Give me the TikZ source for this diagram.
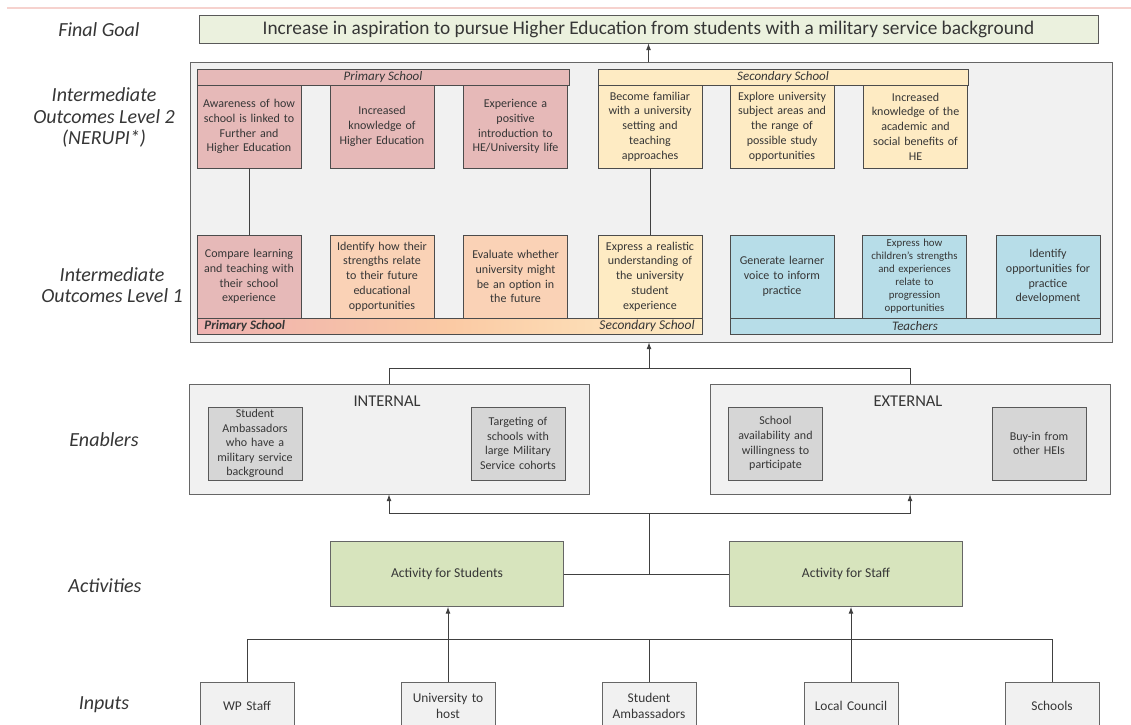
\documentclass[tikz,border=0pt]{standalone}
\usepackage{fontspec}
\setmainfont{Carlito}
\usepackage{tikz}
\usetikzlibrary{arrows,arrows.meta}
\usetikzlibrary{positioning}
\definecolor{goalgreen}{HTML}{EBF1DE}
\definecolor{actgreen}{HTML}{D7E4BD}
\definecolor{pinkbox}{HTML}{E6B9B8}
\definecolor{peachbox}{HTML}{FAD2B6}
\definecolor{yellowbox}{HTML}{FEEBC3}
\definecolor{tealbox}{HTML}{B7DDE8}
\definecolor{panel}{HTML}{F1F1F1}
\definecolor{enabox}{HTML}{D6D6D6}
\definecolor{topline}{HTML}{F6D2CE}
\definecolor{ink}{HTML}{363636}
\tikzset{%
  >={Latex[length=7pt,width=5pt]},
  side label/.style={font=\fontsize{20}{21.5}\selectfont\itshape,align=center,text=ink},
  outcome/.style={draw=black!70,fill=#1,minimum width=104pt,minimum height=83pt,
    text width=100pt,align=center,inner sep=0pt,text=ink,
    font=\fontsize{12}{14.8}\selectfont},
  band/.style={draw=black!70,fill=#1,minimum height=16pt,inner sep=0pt,text=ink,
    font=\fontsize{13}{14}\selectfont\itshape},
  panelbox/.style={draw=black!60,fill=panel,inner sep=0pt},
  enabler/.style={draw=black!65,fill=enabox,minimum width=94pt,minimum height=73pt,
    text width=92pt,align=center,inner sep=0pt,text=ink,
    font=\fontsize{12}{14.6}\selectfont},
  activity/.style={draw=black!60,fill=actgreen,minimum width=233pt,minimum height=65pt,
    inner sep=0pt,text=ink,font=\fontsize{13.6}{15}\selectfont},
  inputbox/.style={draw=black!60,fill=panel,minimum width=94pt,minimum height=48pt,
    text width=92pt,align=center,inner sep=0pt,text=ink,
    font=\fontsize{13.4}{15.5}\selectfont},
  link/.style={draw=black!75,line width=1pt}
}

\begin{document}
\begin{tikzpicture}[x=1pt,y=-1pt]
\useasboundingbox (0,0) rectangle (1131,724);
\clip (0,0) rectangle (1131,724);
\fill[white] (0,0) rectangle (1131,724);
\draw[topline,line width=2pt] (7,8) -- (1131,8);

% row labels
\node[side label] (lgoal) at (99,30) {Final Goal};
\node[side label] (llvl2) at (104,117.5) {Intermediate\\Outcomes Level 2\\(NERUPI*)};
\node[side label] (llvl1) at (112,285) {Intermediate\\Outcomes Level 1};
\node[side label] (lenab) at (104,440) {Enablers};
\node[side label] (lact) at (105,586) {Activities};
\node[side label] (linp) at (104,705) {Inputs};

% final goal
\node[draw=black!65,fill=goalgreen,minimum width=899pt,minimum height=28pt,inner sep=0pt,
  text=ink,font=\fontsize{19.3}{22}\selectfont] (goal) at (648.5,29)
  {Increase in aspiration to pursue Higher Education from students with a military service background};

% outcomes panel
\node[panelbox,minimum width=922pt,minimum height=280pt] (lvl) at (651,202) {};

\node[band=pinkbox,minimum width=372pt] (pshead) at (383,77.5) {Primary School};
\node[band=yellowbox,minimum width=370pt] (sshead) at (783,77.5) {Secondary School};

\node[outcome=pinkbox] (ps1) at (249,126.5) {Awareness of how\\school is linked to\\Further and\\Higher Education};
\node[outcome=pinkbox] (ps2) at (382,126.5) {Increased\\knowledge of\\Higher Education};
\node[outcome=pinkbox] (ps3) at (515.5,126.5) {Experience a\\positive\\introduction to\\HE/University life};
\node[outcome=yellowbox] (ss1) at (650,126.5) {Become familiar\\with a university\\setting and\\teaching\\approaches};
\node[outcome=yellowbox] (ss2) at (782,126.5) {Explore university\\subject areas and\\the range of\\possible study\\opportunities};
\node[outcome=yellowbox] (ss3) at (915.5,126.5) {Increased\\knowledge of the\\academic and\\social benefits of\\HE};

\node[outcome=pinkbox] (pc1) at (249,276.5) {Compare learning\\and teaching with\\their school\\experience};
\node[outcome=peachbox] (pc2) at (382,276.5) {Identify how their\\strengths relate\\to their future\\educational\\opportunities};
\node[outcome=peachbox] (pc3) at (515.5,276.5) {Evaluate whether\\university might\\be an option in\\the future};
\node[outcome=yellowbox] (sc1) at (650,276.5) {Express a realistic\\understanding of\\the university\\student\\experience};
\node[outcome=tealbox] (tc1) at (782,276.5) {Generate learner\\voice to inform\\practice};
\node[outcome=tealbox,font=\fontsize{10.8}{13}\selectfont] (tc2) at (914.5,276.5)
  {Express how\\children’s strengths\\and experiences\\relate to\\progression\\opportunities};
\node[outcome=tealbox] (tc3) at (1048,276.5) {Identify\\opportunities for\\practice\\development};

\node[band=white,minimum width=505pt,left color=pinkbox!85!red!80!white,right color=yellowbox,
  middle color=peachbox!90!orange] (bar) at (449.5,326) {};
\node[anchor=west,text=ink,font=\fontsize{13}{14}\selectfont\itshape\bfseries] (barl)
  at ([xshift=4pt]bar.west) {Primary School};
\node[anchor=east,text=ink,font=\fontsize{13.5}{14}\selectfont\itshape] (barr)
  at ([xshift=-4pt]bar.east) {Secondary School};
\node[band=tealbox,minimum width=370pt] (teach) at (915,326) {Teachers};

\draw[link] (ps1.south) -- (pc1.north);
\draw[link] (ss1.south) -- (sc1.north);
\draw[link,->] (lvl.north -| goal.south) -- (goal.south);

% enablers
\node[panelbox,minimum width=400pt,minimum height=110pt] (int) at (389,439) {};
\node[panelbox,minimum width=400pt,minimum height=110pt] (ext) at (910,439) {};
\node[text=ink,font=\fontsize{16.5}{18}\selectfont] (intt) at (387,401) {INTERNAL};
\node[text=ink,font=\fontsize{16.5}{18}\selectfont] (extt) at (908,401) {EXTERNAL};
\node[enabler] (ia) at (255,443.5) {Student\\Ambassadors\\who have a\\military service\\background};
\node[enabler] (ib) at (518,443.5) {Targeting of\\schools with\\large Military\\Service cohorts};
\node[enabler] (ea) at (775.5,443.5) {School\\availability and\\willingness to\\participate};
\node[enabler] (eb) at (1039,443.5) {Buy-in from\\other HEIs};

\coordinate (upj) at (649,368);
\draw[link] (int.north) |- (upj) -| (ext.north);
\draw[link,->] (upj) -- (upj |- lvl.south);

% activities
\node[activity] (actst) at (447,574) {Activity for Students};
\node[activity] (actsf) at (846,574) {Activity for Staff};

\coordinate (dnj) at (649,513);
\draw[link,->] (dnj) -| (int.south);
\draw[link,->] (dnj) -| (ext.south);
\draw[link] (actst.east) -- (actsf.west);
\draw[link] (dnj) -- (dnj |- actst.east);

% inputs
\node[inputbox] (inp1) at (247,706) {WP Staff};
\node[inputbox] (inp2) at (448,706) {University to\\host};
\node[inputbox] (inp3) at (649,706) {Student\\Ambassadors};
\node[inputbox] (inp4) at (851,706) {Local Council};
\node[inputbox] (inp5) at (1052,706) {Schools};

\coordinate (inrow) at (0,639);
\draw[link] (inp1.north) |- (inrow -| inp5.north) -- (inp5.north);
\draw[link] (inp3.north) -- (inp3.north |- inrow);
\draw[link,->] (inp2.north) -- (inp2.north |- actst.south);
\draw[link,->] (inp4.north) -- (inp4.north |- actsf.south);
\end{tikzpicture}
\end{document}
